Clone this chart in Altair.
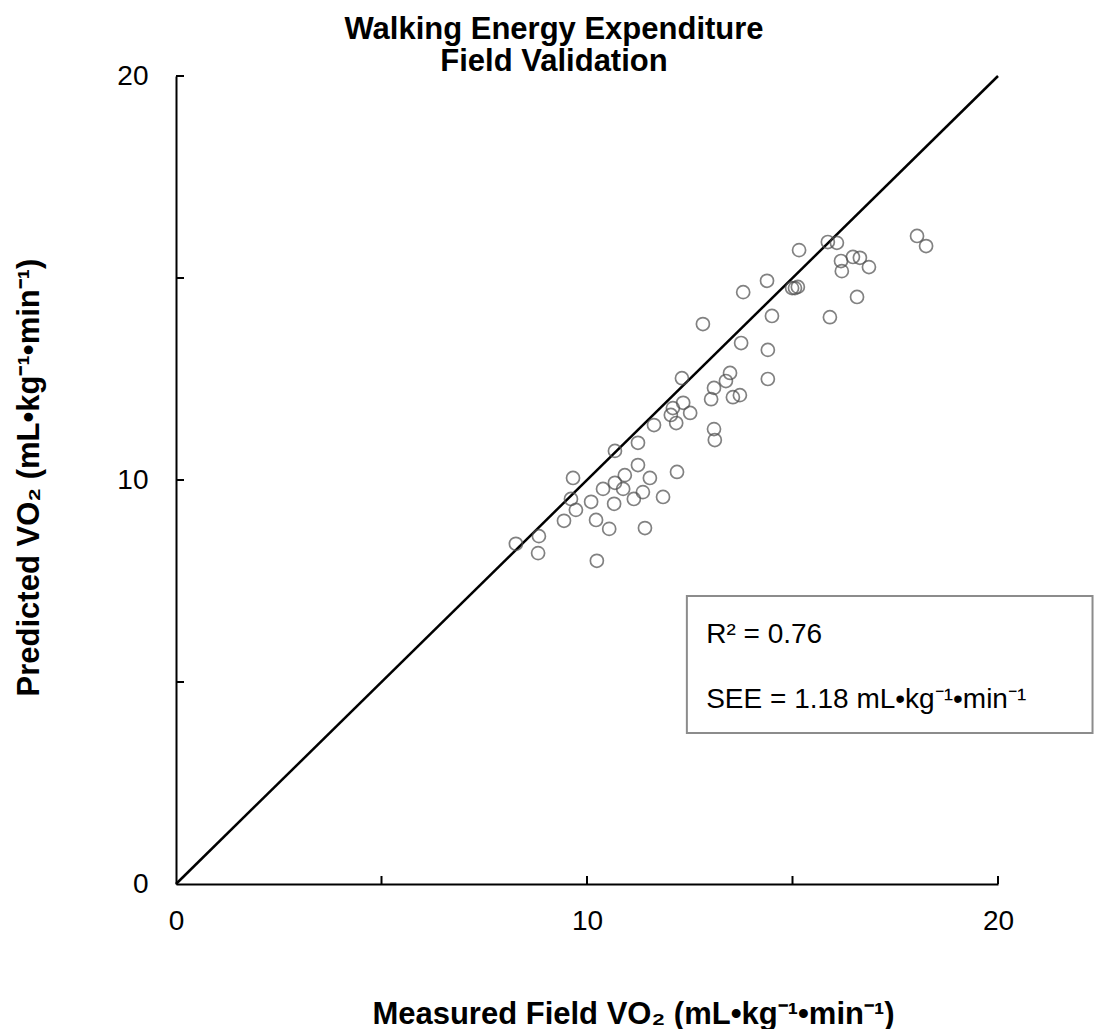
import altair as alt
import pandas as pd

# ---- data ----
measured = [8.27, 8.83, 8.81, 9.66, 9.61, 9.73, 9.44, 10.10, 10.22, 10.24,
            10.39, 10.54, 10.68, 10.68, 10.66, 10.88, 10.92, 11.14, 11.24, 11.24,
            11.36, 11.41, 11.53, 11.63, 11.85, 12.17, 12.19, 12.04, 12.09, 12.34,
            12.51, 12.31, 13.09, 13.11, 12.82, 13.02, 13.09, 13.38, 13.48, 13.55,
            13.72, 13.75, 14.40, 14.40, 14.50, 14.38, 13.80, 14.99, 15.06, 15.13,
            15.16, 15.86, 16.08, 16.18, 16.20, 16.47, 16.64, 16.86, 16.57, 15.91,
            18.03, 18.25]
predicted = [8.42, 8.61, 8.19, 10.05, 9.53, 9.26, 8.99, 9.46, 9.01, 8.00,
             9.78, 8.79, 10.72, 9.93, 9.41, 9.78, 10.12, 9.53, 10.92, 10.37,
             9.70, 8.81, 10.05, 11.36, 9.58, 11.41, 10.20, 11.61, 11.78, 11.91,
             11.66, 12.52, 11.26, 10.99, 13.86, 12.00, 12.28, 12.45, 12.65, 12.05,
             12.10, 13.39, 13.22, 12.50, 14.06, 14.93, 14.65, 14.75, 14.75, 14.78,
             15.69, 15.89, 15.87, 15.42, 15.17, 15.52, 15.50, 15.27, 14.53, 14.03,
             16.04, 15.79]

identity_x = [0, 20]
identity_y = [0, 20]
label_values = [0, 10, 20]
tick_values = [5, 10, 15, 20]

box_x = [12.43]
box_x2 = [22.3]
box_y = [7.13]
box_y2 = [3.74]
ann_text = ["R\u00b2 = 0.76", "SEE = 1.18 mL\u2022kg\u207b\u00b9\u2022min\u207b\u00b9"]
ann_x = [12.9, 12.9]
ann_y = [5.97, 4.36]

title_lines = ["Walking Energy Expenditure", "Field Validation"]
x_title = "Measured Field VO\u2082 (mL\u2022kg\u207b\u00b9\u2022min\u207b\u00b9)"
y_title = "Predicted VO\u2082 (mL\u2022kg\u207b\u00b9\u2022min\u207b\u00b9)"

FONT = "Liberation Sans"
W, H = 822, 808

xs = alt.Scale(domain=[0, 20], nice=False, zero=False)
ys = alt.Scale(domain=[0, 20], nice=False, zero=False)

x_axis = alt.Axis(values=label_values, title=x_title, grid=False, ticks=False, tickSize=0,
                  labelFont=FONT, labelFontSize=28, labelColor="#000", labelPadding=23,
                  labelFlush=False,
                  domainColor="#000", domainWidth=2,
                  titleFont=FONT, titleFontSize=31, titleFontWeight="bold", titleColor="#000",
                  titleX=457, titleY=139, titleBaseline="alphabetic", titleAlign="center")
y_axis = alt.Axis(values=label_values, title=y_title, grid=False, ticks=False, tickSize=0,
                  labelFont=FONT, labelFontSize=28, labelColor="#000", labelPadding=28,
                  labelFlush=False,
                  domainColor="#000", domainWidth=2,
                  titleFont=FONT, titleFontSize=31, titleFontWeight="bold", titleColor="#000",
                  titleAngle=270, titleX=-147, titleY=401, titleBaseline="middle",
                  titleAlign="center")

pts_df = pd.DataFrame({"x": measured, "y": predicted})
line_df = pd.DataFrame({"x": identity_x, "y": identity_y})
xt_df = pd.DataFrame({"x": tick_values})
yt_df = pd.DataFrame({"y": tick_values})
box_df = pd.DataFrame({"x": box_x, "x2": box_x2, "y": box_y, "y2": box_y2})
ann_df = pd.DataFrame({"x": ann_x, "y": ann_y, "t": ann_text})

X = alt.X("x:Q", scale=xs, axis=x_axis)
Y = alt.Y("y:Q", scale=ys, axis=y_axis)

points = alt.Chart(pts_df).mark_point(
    shape="circle", filled=False, size=170, stroke="#4d4d4d", strokeWidth=1.7
).encode(x=X, y=Y)

diag = alt.Chart(line_df).mark_line(color="#000", strokeWidth=2.5).encode(x=X, y=Y)

xticks = alt.Chart(xt_df).mark_rule(color="#000", strokeWidth=2).encode(
    x=X, y=alt.value(H), y2=alt.value(H - 8))
yticks = alt.Chart(yt_df).mark_rule(color="#000", strokeWidth=2).encode(
    y=Y, x=alt.value(0), x2=alt.value(8))

box = alt.Chart(box_df).mark_rect(fill="white", stroke="#8c8c8c", strokeWidth=2).encode(
    x=X, x2="x2:Q", y=Y, y2="y2:Q")

ann = alt.Chart(ann_df).mark_text(
    align="left", baseline="alphabetic", font=FONT, fontSize=28, color="#000"
).encode(x=X, y=Y, text="t:N")

chart = alt.layer(diag, points, xticks, yticks, box, ann).properties(
    width=W, height=H,
    autosize=alt.AutoSizeParams(type="none"),
    padding={"left": 168, "top": 68, "right": 96, "bottom": 145},
    title=alt.Title(title_lines, font=FONT, fontSize=31, fontWeight="bold", color="#000",
                    anchor="middle", dx=-33, dy=17, offset=1, lineHeight=32),
).configure_view(stroke=None)

chart.save("out.html", embed_options={"renderer": "svg", "actions": False})
